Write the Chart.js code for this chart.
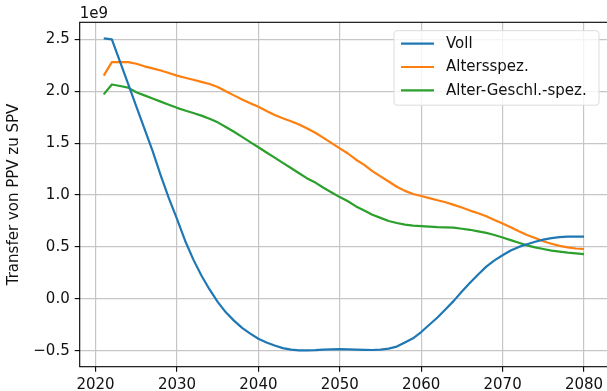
<!DOCTYPE html>
<html>
<head>
<meta charset="utf-8">
<script src="https://cdn.jsdelivr.net/npm/chart.js@4/dist/chart.umd.min.js"></script>
<style>
  html, body { margin: 0; padding: 0; background: #fff; overflow: hidden; }
  canvas { display: block; }
</style>
</head>
<body>
<canvas id="c" width="610" height="391"></canvas>
<script>
// Years 2021–2080, transfers in units of 1e9
const years = [
  2021, 2022, 2023, 2024, 2025, 2026, 2027, 2028, 2029, 2030,
  2031, 2032, 2033, 2034, 2035, 2036, 2037, 2038, 2039, 2040,
  2041, 2042, 2043, 2044, 2045, 2046, 2047, 2048, 2049, 2050,
  2051, 2052, 2053, 2054, 2055, 2056, 2057, 2058, 2059, 2060,
  2061, 2062, 2063, 2064, 2065, 2066, 2067, 2068, 2069, 2070,
  2071, 2072, 2073, 2074, 2075, 2076, 2077, 2078, 2079, 2080
];

const voll = [
  2.51, 2.50, 2.285, 2.07, 1.855, 1.64, 1.425, 1.19, 0.97, 0.77,
  0.56, 0.38, 0.225, 0.09, -0.03, -0.13, -0.21, -0.28, -0.335, -0.385,
  -0.42, -0.45, -0.475, -0.49, -0.497, -0.497, -0.495, -0.49, -0.487, -0.485,
  -0.488, -0.49, -0.492, -0.493, -0.49, -0.48, -0.46, -0.42, -0.38, -0.32,
  -0.25, -0.18, -0.10, -0.02, 0.07, 0.155, 0.235, 0.31, 0.37, 0.42,
  0.465, 0.50, 0.525, 0.55, 0.57, 0.585, 0.595, 0.60, 0.60, 0.60
];

const altersspez = [
  2.15, 2.28, 2.28, 2.28, 2.265, 2.24, 2.22, 2.20, 2.175, 2.15,
  2.13, 2.11, 2.09, 2.07, 2.04, 2.00, 1.96, 1.92, 1.885, 1.85,
  1.81, 1.77, 1.74, 1.71, 1.68, 1.64, 1.60, 1.55, 1.50, 1.45,
  1.40, 1.34, 1.29, 1.23, 1.18, 1.13, 1.08, 1.04, 1.01, 0.99,
  0.97, 0.95, 0.93, 0.905, 0.88, 0.85, 0.825, 0.795, 0.76, 0.725,
  0.69, 0.65, 0.615, 0.585, 0.555, 0.53, 0.51, 0.495, 0.485, 0.48
];

const alterGeschlSpez = [
  1.97, 2.065, 2.05, 2.035, 1.99, 1.96, 1.93, 1.90, 1.87, 1.84,
  1.815, 1.79, 1.765, 1.735, 1.70, 1.655, 1.61, 1.56, 1.51, 1.46,
  1.41, 1.36, 1.31, 1.26, 1.21, 1.16, 1.12, 1.07, 1.025, 0.98,
  0.94, 0.89, 0.85, 0.81, 0.78, 0.75, 0.73, 0.715, 0.705, 0.70,
  0.695, 0.69, 0.688, 0.685, 0.675, 0.665, 0.65, 0.635, 0.615, 0.59,
  0.565, 0.54, 0.515, 0.495, 0.48, 0.465, 0.455, 0.445, 0.437, 0.43
];

const seriesLabels = ['Voll', 'Altersspez.', 'Alter-Geschl.-spez.'];
const xTicks = [2020, 2030, 2040, 2050, 2060, 2070, 2080];
const yTicks = [-0.5, 0.0, 0.5, 1.0, 1.5, 2.0, 2.5];
const yAxisTitle = 'Transfer von PPV zu SPV';
const offsetText = '1e9';

const FONT = 'DejaVu Sans';
const colors = ['#1f77b4', '#ff7f0e', '#2ca02c'];
const GRID = '#c6c6c6';

const toPoints = vals => vals.map((v, i) => ({ x: years[i], y: v }));

// frame around the plot, offset text and legend box
const decorations = {
  id: 'decorations',
  afterDatasetsDraw(chart) {
    const { ctx, chartArea: a } = chart;
    ctx.save();
    ctx.strokeStyle = '#000';
    ctx.lineWidth = 1.1;
    ctx.strokeRect(a.left, a.top, a.right - a.left, a.bottom - a.top);

    ctx.fillStyle = '#111';
    ctx.font = '15px "' + FONT + '"';
    ctx.textAlign = 'left';
    ctx.textBaseline = 'alphabetic';
    ctx.fillText(offsetText, a.left, 17.5);

    // legend
    const bx = 394, by = 30.7, bw = 205, bh = 74.5, r = 3;
    ctx.beginPath();
    ctx.moveTo(bx + r, by);
    ctx.arcTo(bx + bw, by, bx + bw, by + bh, r);
    ctx.arcTo(bx + bw, by + bh, bx, by + bh, r);
    ctx.arcTo(bx, by + bh, bx, by, r);
    ctx.arcTo(bx, by, bx + bw, by, r);
    ctx.closePath();
    ctx.fillStyle = 'rgba(255,255,255,0.8)';
    ctx.fill();
    ctx.strokeStyle = '#dcdcdc';
    ctx.lineWidth = 1;
    ctx.stroke();

    chart.data.datasets.forEach((ds, i) => {
      const y = 43.7 + i * 23.3;
      ctx.beginPath();
      ctx.moveTo(401, y);
      ctx.lineTo(434, y);
      ctx.strokeStyle = ds.borderColor;
      ctx.lineWidth = 2.2;
      ctx.stroke();
      ctx.fillStyle = '#111';
      ctx.textBaseline = 'middle';
      ctx.fillText(ds.label, 446, y + 0.5);
    });
    ctx.restore();
  }
};

const fmtY = v => v.toFixed(1).replace('-', '\u2212');

new Chart(document.getElementById('c'), {
  type: 'line',
  data: {
    datasets: [
      { label: seriesLabels[0], data: toPoints(voll), borderColor: colors[0] },
      { label: seriesLabels[1], data: toPoints(altersspez), borderColor: colors[1] },
      { label: seriesLabels[2], data: toPoints(alterGeschlSpez), borderColor: colors[2] }
    ].map(d => Object.assign(d, {
      borderWidth: 2.2, pointRadius: 0, tension: 0, fill: false,
      borderCapStyle: 'butt', borderJoinStyle: 'round'
    }))
  },
  options: {
    responsive: false,
    animation: false,
    devicePixelRatio: 1,
    layout: { padding: { top: 22.3, right: 2, left: 0, bottom: 0 } },
    plugins: { legend: { display: false }, tooltip: { enabled: false } },
    scales: {
      x: {
        type: 'linear',
        min: 2018.05,
        max: 2082.95,
        afterBuildTicks: s => { s.ticks = xTicks.map(v => ({ value: v })); },
        afterFit: s => { s.height = 24.3; },
        ticks: {
          autoSkip: false, maxRotation: 0, padding: 4, color: '#111',
          font: { family: FONT, size: 15 },
          callback: v => String(v)
        },
        grid: { color: GRID, lineWidth: 1.2, tickColor: '#000', tickWidth: 1.1, tickLength: 5 },
        border: { display: false }
      },
      y: {
        min: -0.654,
        max: 2.664,
        afterBuildTicks: s => { s.ticks = yTicks.map(v => ({ value: v })); },
        afterFit: s => { s.width = 79.7; },
        ticks: {
          autoSkip: false, padding: 5, color: '#111',
          font: { family: FONT, size: 15 },
          callback: v => fmtY(v)
        },
        grid: { color: GRID, lineWidth: 1.2, tickColor: '#000', tickWidth: 1.1, tickLength: 5 },
        border: { display: false },
        title: {
          display: true, text: yAxisTitle, color: '#111',
          font: { family: FONT, size: 15 },
          padding: { top: 5.5, bottom: 0 }
        }
      }
    }
  },
  plugins: [decorations]
});
</script>
</body>
</html>
